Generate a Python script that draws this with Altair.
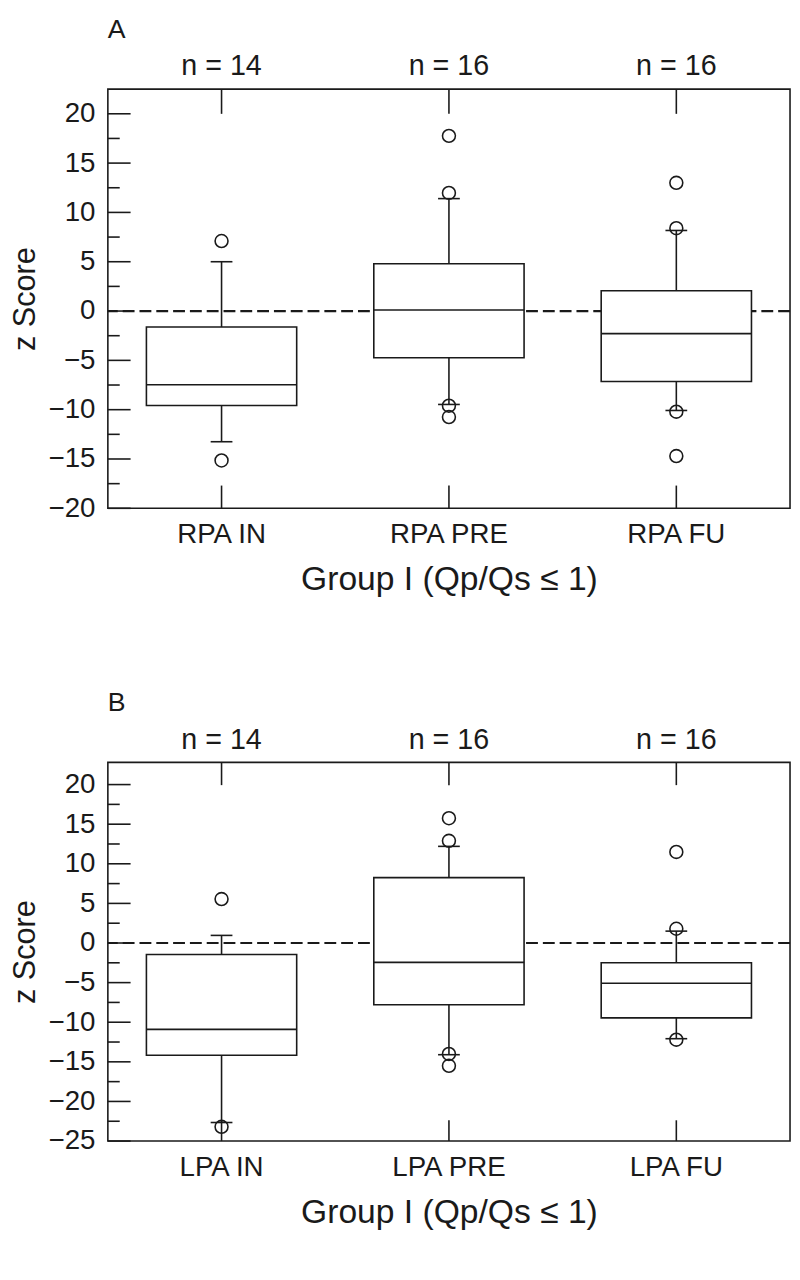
import altair as alt
import pandas as pd

n_labels = ["n = 14", "n = 16", "n = 16"]
x_title = "Group I (Qp/Qs ≤ 1)"
y_title = "z Score"

# Panel A
A_cats = ["RPA IN", "RPA PRE", "RPA FU"]
A_lower = [-13.25, -9.47, -10.08]
A_q1 = [-9.57, -4.73, -7.14]
A_median = [-7.47, 0.1, -2.29]
A_q3 = [-1.62, 4.79, 2.05]
A_upper = [5.0, 11.4, 8.17]
A_out_cat = ["RPA IN", "RPA IN", "RPA PRE", "RPA PRE", "RPA PRE", "RPA PRE",
             "RPA FU", "RPA FU", "RPA FU", "RPA FU"]
A_out_val = [7.1, -15.15, 17.76, 11.98, -9.6, -10.75, 13.0, 8.4, -10.2, -14.7]
A_major = [-20, -15, -10, -5, 0, 5, 10, 15, 20]
A_minor = [-17.5, -12.5, -7.5, -2.5, 2.5, 7.5, 12.5, 17.5]
A_domain = [-20, 22.5]

# Panel B
B_cats = ["LPA IN", "LPA PRE", "LPA FU"]
B_lower = [-22.66, -14.1, -12.08]
B_q1 = [-14.16, -7.8, -9.45]
B_median = [-10.9, -2.45, -5.08]
B_q3 = [-1.45, 8.25, -2.5]
B_upper = [0.96, 12.2, 1.5]
B_out_cat = ["LPA IN", "LPA IN", "LPA PRE", "LPA PRE", "LPA PRE", "LPA PRE",
             "LPA FU", "LPA FU", "LPA FU"]
B_out_val = [5.55, -23.2, 15.75, 12.9, -14.0, -15.5, 11.5, 1.8, -12.2]
B_major = [-25, -20, -15, -10, -5, 0, 5, 10, 15, 20]
B_minor = [-22.5, -17.5, -12.5, -7.5, -2.5, 2.5, 7.5, 12.5, 17.5]
B_domain = [-25, 22.8]

W = 690
INK = "#1a1a1a"
SW = 1.6


def panel(letter, cats, lower, q1, med, q3, upper, out_cat, out_val,
          major, minor, domain, height, top_len, bot_len):
    stats = pd.DataFrame(dict(cat=cats, lower=lower, q1=q1, med=med, q3=q3,
                              upper=upper, n=n_labels))
    outs = pd.DataFrame(dict(cat=out_cat, val=out_val))
    majors = pd.DataFrame(dict(v=major))
    minors = pd.DataFrame(dict(v=minor))
    zero = pd.DataFrame(dict(z=[0]))
    lab = pd.DataFrame(dict(t=[letter]))

    xscale = alt.Scale(domain=cats, paddingInner=0, paddingOuter=0)
    xaxis = alt.Axis(title=x_title, labelAngle=0, ticks=False, domain=False,
                     grid=False, labelFontSize=28, titleFontSize=34,
                     titleFontWeight="normal", labelPadding=13, titlePadding=14,
                     labelColor=INK, titleColor=INK)
    yscale = alt.Scale(domain=domain, nice=False, zero=False)
    yaxis = alt.Axis(title=y_title, values=major, ticks=False, domain=False,
                     grid=False, labelFontSize=28, titleFontSize=31,
                     titleFontWeight="normal", labelPadding=13, titlePadding=7,
                     labelColor=INK, titleColor=INK, format="d")

    def X():
        return alt.X("cat:N", scale=xscale, axis=xaxis, sort=cats)

    def Y(f):
        return alt.Y(f, type="quantitative", scale=yscale, axis=yaxis)

    zero_line = alt.Chart(zero).mark_rule(
        strokeDash=[12, 5], strokeWidth=2.2, color=INK).encode(y=Y("z"))
    box = alt.Chart(stats).mark_bar(
        fill="white", stroke=INK, strokeWidth=SW, size=152, opacity=1).encode(
        x=X(), y=Y("q1"), y2="q3")
    median = alt.Chart(stats).mark_tick(
        color=INK, size=152, thickness=SW, opacity=1).encode(x=X(), y=Y("med"))
    wh_hi = alt.Chart(stats).mark_rule(color=INK, strokeWidth=SW).encode(
        x=X(), y=Y("q3"), y2="upper")
    wh_lo = alt.Chart(stats).mark_rule(color=INK, strokeWidth=SW).encode(
        x=X(), y=Y("lower"), y2="q1")
    cap_hi = alt.Chart(stats).mark_tick(
        color=INK, size=22, thickness=SW, opacity=1).encode(x=X(), y=Y("upper"))
    cap_lo = alt.Chart(stats).mark_tick(
        color=INK, size=22, thickness=SW, opacity=1).encode(x=X(), y=Y("lower"))
    pts = alt.Chart(outs).mark_point(
        shape="circle", filled=False, size=170, stroke=INK, strokeWidth=SW,
        opacity=1).encode(x=X(), y=Y("val"))
    tk_major = alt.Chart(majors).mark_rule(color=INK, strokeWidth=SW).encode(
        y=Y("v"), x=alt.value(0), x2=alt.value(23))
    tk_minor = alt.Chart(minors).mark_rule(color=INK, strokeWidth=SW).encode(
        y=Y("v"), x=alt.value(0), x2=alt.value(12))
    tk_top = alt.Chart(stats).mark_rule(color=INK, strokeWidth=SW).encode(
        x=X(), y=alt.value(0), y2=alt.value(top_len))
    tk_bot = alt.Chart(stats).mark_rule(color=INK, strokeWidth=SW).encode(
        x=X(), y=alt.value(height), y2=alt.value(height - bot_len))
    ntext = alt.Chart(stats).mark_text(
        fontSize=29, color=INK, baseline="middle").encode(
        x=X(), y=alt.value(-23), text="n:N")
    letter_text = alt.Chart(lab).mark_text(
        fontSize=27, color=INK, baseline="top", align="left").encode(
        x=alt.value(0), y=alt.value(-73), text="t:N")

    return alt.layer(zero_line, box, median, wh_hi, wh_lo, cap_hi, cap_lo, pts,
                     tk_major, tk_minor, tk_top, tk_bot, ntext,
                     letter_text).properties(width=W, height=height)


pA = panel("A", A_cats, A_lower, A_q1, A_median, A_q3, A_upper, A_out_cat,
           A_out_val, A_major, A_minor, A_domain, 424, 25, 23)
pB = panel("B", B_cats, B_lower, B_q1, B_median, B_q3, B_upper, B_out_cat,
           B_out_val, B_major, B_minor, B_domain, 383, 23, 21)

chart = alt.vconcat(pA, pB, spacing=92).properties(
    padding={"left": 0, "top": 0, "right": 0, "bottom": 0}
).configure(font="Liberation Sans").configure_view(
    stroke=INK, strokeWidth=SW)

chart.save("out.html", embed_options={"renderer": "svg", "actions": False})
